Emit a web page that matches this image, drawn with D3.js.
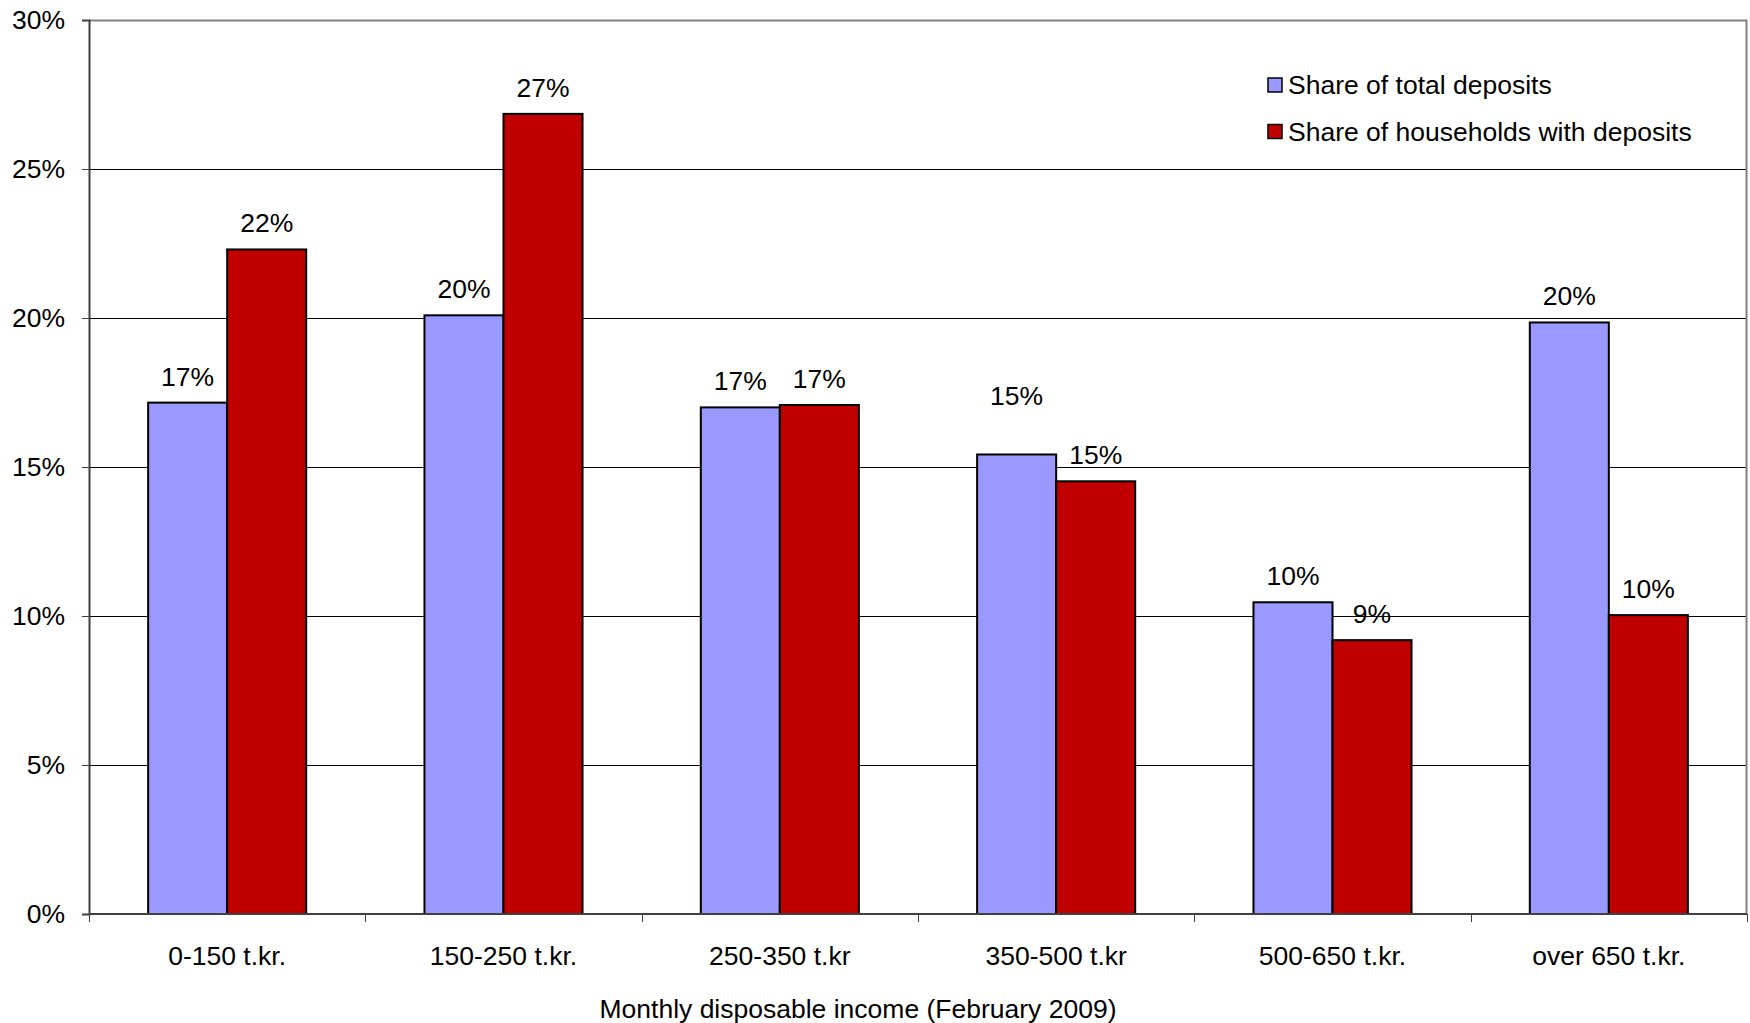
<!DOCTYPE html>
<html>
<head>
<meta charset="utf-8">
<script src="https://cdn.jsdelivr.net/npm/d3@7"></script>
<style>
    body { margin: 0; background: #fff; }
    text { font-family: "Liberation Sans", Arial, sans-serif; fill: #000; }
</style>
</head>
<body>
<div id="chart"></div>
<script>
// Data (percent)
const categories = ["0-150 t.kr.", "150-250 t.kr.", "250-350 t.kr", "350-500 t.kr", "500-650 t.kr.", "over 650 t.kr."];
const seriesNames = ["Share of total deposits", "Share of households with deposits"];
const depositShare = [17.16, 20.09, 17.0, 15.42, 10.46, 19.85];
const householdShare = [22.30, 26.85, 17.08, 14.52, 9.19, 10.03];
const yTicks = [0, 5, 10, 15, 20, 25, 30];

const colors = ["#9999FF", "#C00000"];
const seriesValues = [depositShare, householdShare];
const fontSize = "26.5px";

function renderChart() {
    const totalWidth = 1750, totalHeight = 1023;
    const margin = {top: 20, right: 3, bottom: 109, left: 89}; // Plot area margins
    const width = totalWidth - margin.left - margin.right;
    const height = totalHeight - margin.top - margin.bottom;

    const root = d3.select("#chart")
        .append("svg")
            .attr("width", totalWidth)
            .attr("height", totalHeight);
    const svg = root.append("g")
        .attr("transform", `translate(${margin.left},${margin.top})`);

    const x = d3.scaleBand()
        .domain(categories)
        .range([0, width])
        .paddingInner(0.428)
        .paddingOuter(0.214);
    const xs = d3.scaleBand()
        .domain(d3.range(seriesNames.length))
        .range([0, x.bandwidth()]);
    const y = d3.scaleLinear()
        .domain([0, 30])
        .range([height, 0]);

    // Horizontal gridlines
    svg.append("g")
        .selectAll("line")
        .data(yTicks.filter(t => t > 0))
        .enter().append("line")
            .attr("x1", 0)
            .attr("x2", width)
            .attr("y1", d => Math.round(y(d)) + 0.5)
            .attr("y2", d => Math.round(y(d)) + 0.5)
            .attr("stroke", "#000")
            .attr("stroke-width", 1);

    // Right and top border of plot area
    svg.append("path")
        .attr("d", `M0,0.5H${width - 0.5}V${height}`)
        .attr("fill", "none")
        .attr("stroke", "#808080")
        .attr("stroke-width", 2);

    const rows = categories.map((c, i) => ({cat: c, values: seriesValues.map(s => s[i])}));

    const groups = svg.selectAll(".group")
        .data(rows)
        .enter().append("g")
            .attr("class", "group")
            .attr("transform", d => `translate(${x(d.cat)},0)`);

    groups.selectAll("rect")
        .data(d => d.values.map((v, k) => ({k, v})))
        .enter().append("rect")
            .attr("x", d => xs(d.k))
            .attr("width", xs.bandwidth())
            .attr("y", d => y(d.v))
            .attr("height", d => height - y(d.v))
            .attr("fill", d => colors[d.k])
            .attr("stroke", "#000")
            .attr("stroke-width", 2);

    // Data labels (one label was moved up by hand in the original)
    const fmt = d3.format(".0%");
    groups.selectAll(".label")
        .data(d => d.values.map((v, k) => ({k, v, cat: d.cat})))
        .enter().append("text")
            .attr("class", "label")
            .attr("x", d => xs(d.k) + xs.bandwidth() / 2)
            .attr("y", d => y(d.v) - 17 - (d.cat === "350-500 t.kr" && d.k === 0 ? 32 : 0))
            .attr("text-anchor", "middle")
            .style("font-size", fontSize)
            .text(d => fmt(d.v / 100));

    // Y axis
    const yAxis = svg.append("g")
        .call(d3.axisLeft(y).tickValues(yTicks).tickFormat(d => d + "%").tickSize(7).tickPadding(17));
    yAxis.select(".domain").attr("stroke", "#404040").attr("stroke-width", 2);
    yAxis.selectAll(".tick line").attr("stroke", "#404040");
    yAxis.selectAll("text")
        .style("font-size", fontSize)
        .attr("fill", "#000")
        .style("font-family", "'Liberation Sans', Arial, sans-serif");

    // X axis: ticks on category boundaries
    const xAxisG = svg.append("g")
        .attr("transform", `translate(0,${height})`);
    xAxisG.append("line")
        .attr("x1", 0).attr("x2", width)
        .attr("stroke", "#404040")
        .attr("stroke-width", 2);
    xAxisG.selectAll(".bound")
        .data(d3.range(categories.length + 1))
        .enter().append("line")
            .attr("class", "bound")
            .attr("x1", i => Math.round(i === categories.length ? width : x(categories[i]) - x.step() * x.paddingOuter()) + 0.5)
            .attr("x2", i => Math.round(i === categories.length ? width : x(categories[i]) - x.step() * x.paddingOuter()) + 0.5)
            .attr("y1", 0)
            .attr("y2", 8)
            .attr("stroke", "#404040");
    xAxisG.selectAll(".xlabel")
        .data(categories)
        .enter().append("text")
            .attr("class", "xlabel")
            .attr("x", d => x(d) + x.bandwidth() / 2)
            .attr("y", 51)
            .attr("text-anchor", "middle")
            .style("font-size", fontSize)
            .text(d => d);

    // X axis title
    root.append("text")
        .attr("x", 858)
        .attr("y", 1018)
        .attr("text-anchor", "middle")
        .style("font-size", fontSize)
        .text("Monthly disposable income (February 2009)");

    // Legend
    const legend = root.append("g")
        .attr("transform", "translate(1268,78)");
    const items = legend.selectAll(".item")
        .data(seriesNames)
        .enter().append("g")
            .attr("class", "item")
            .attr("transform", (d, i) => `translate(0,${i * 46.5})`);
    items.append("rect")
        .attr("width", 14)
        .attr("height", 14)
        .attr("fill", (d, i) => colors[i])
        .attr("stroke", "#000")
        .attr("stroke-width", 1.5);
    items.append("text")
        .attr("x", 20)
        .attr("y", 16)
        .style("font-size", fontSize)
        .text(d => d);
}

renderChart();
</script>
</body>
</html>
